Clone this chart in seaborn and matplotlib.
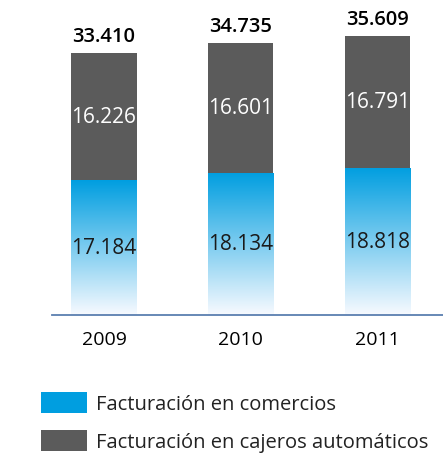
import numpy as np
import pandas as pd
import matplotlib
matplotlib.use("Agg")
import matplotlib.pyplot as plt
import seaborn as sns
from matplotlib.patches import Patch
from matplotlib.colors import to_rgb

years = ["2009", "2010", "2011"]
comercios = [17184, 18134, 18818]
cajeros = [16226, 16601, 16791]
totals = [33410, 34735, 35609]
legend_labels = ["Facturación en comercios", "Facturación en cajeros automáticos"]

BLUE = "#009ee0"
GRAY = "#5b5b5b"

sns.set_theme(style="white")
plt.rcParams['font.family'] = ['Open Sans', 'DejaVu Sans']

df = pd.DataFrame({"year": years, "comercios": comercios, "cajeros": cajeros, "total": totals})

fig = plt.figure(figsize=(4.43, 4.56), dpi=100)
W, H = 443, 456
ax = fig.add_axes([52 / W, (H - 316) / H, (W - 52) / W, (316 - 20) / H])

sns.barplot(data=df, x="year", y="total", color=GRAY, width=0.48, ax=ax,
            saturation=1, edgecolor="none", linewidth=0)
n_gray = len(ax.patches)
sns.barplot(data=df, x="year", y="comercios", color=BLUE, width=0.48, ax=ax,
            saturation=1, edgecolor="none", linewidth=0)
blue_patches = ax.patches[n_gray:]

ymax = 37800
ax.set_ylim(0, ymax)
ax.set_xlim(-0.38, 2.48)

# gradient overlay on blue bars
top = np.array(to_rgb(BLUE))
white = np.array([0.97, 0.98, 1.0])
n = 256
f = np.linspace(0, 1, n)[:, None]
grad = top[None, :] * (1 - f) + white[None, :] * f
img = grad[:, None, :]
for p in blue_patches:
    x0 = p.get_x(); w = p.get_width(); h = p.get_height()
    im = ax.imshow(img, extent=[x0, x0 + w, 0, h], origin="upper", aspect="auto", zorder=p.get_zorder() + 0.1)
    im.set_clip_path(p)
ax.set_ylim(0, ymax)
ax.set_xlim(-0.38, 2.48)

for i in range(len(years)):
    ax.text(i, comercios[i] / 2, f"{comercios[i]:,}".replace(",", "."), ha="center", va="center",
            fontsize=15, color="#1a1a1a", zorder=5)
    ax.text(i, comercios[i] + cajeros[i] / 2, f"{cajeros[i]:,}".replace(",", "."), ha="center", va="center",
            fontsize=15, color="white", zorder=5)
    ax.annotate(f"{totals[i]:,}".replace(",", "."), (i, totals[i]), xytext=(0, 5), textcoords="offset points",
                ha="center", va="bottom", fontsize=14.5, fontweight="semibold", color="black")

for s in ["top", "right", "left"]:
    ax.spines[s].set_visible(False)
ax.spines["bottom"].set_color("#5b7fb0")
ax.spines["bottom"].set_linewidth(1.3)
ax.set_yticks([])
ax.set_xlabel("")
ax.set_ylabel("")
ax.tick_params(axis="x", length=0, pad=11, labelsize=14, labelcolor="black")
ax.set_facecolor("none")

handles = [Patch(facecolor=BLUE, edgecolor="none"), Patch(facecolor=GRAY, edgecolor="none")]
fig.legend(handles, legend_labels, loc="upper left", bbox_to_anchor=(38 / W, 1 - 390 / H),
           frameon=False, fontsize=14.5, handlelength=2.3, handleheight=1.2, handletextpad=0.45,
           labelspacing=0.8, borderaxespad=0, borderpad=0.15, labelcolor="#222222")

fig.savefig("out.png", dpi=100)
